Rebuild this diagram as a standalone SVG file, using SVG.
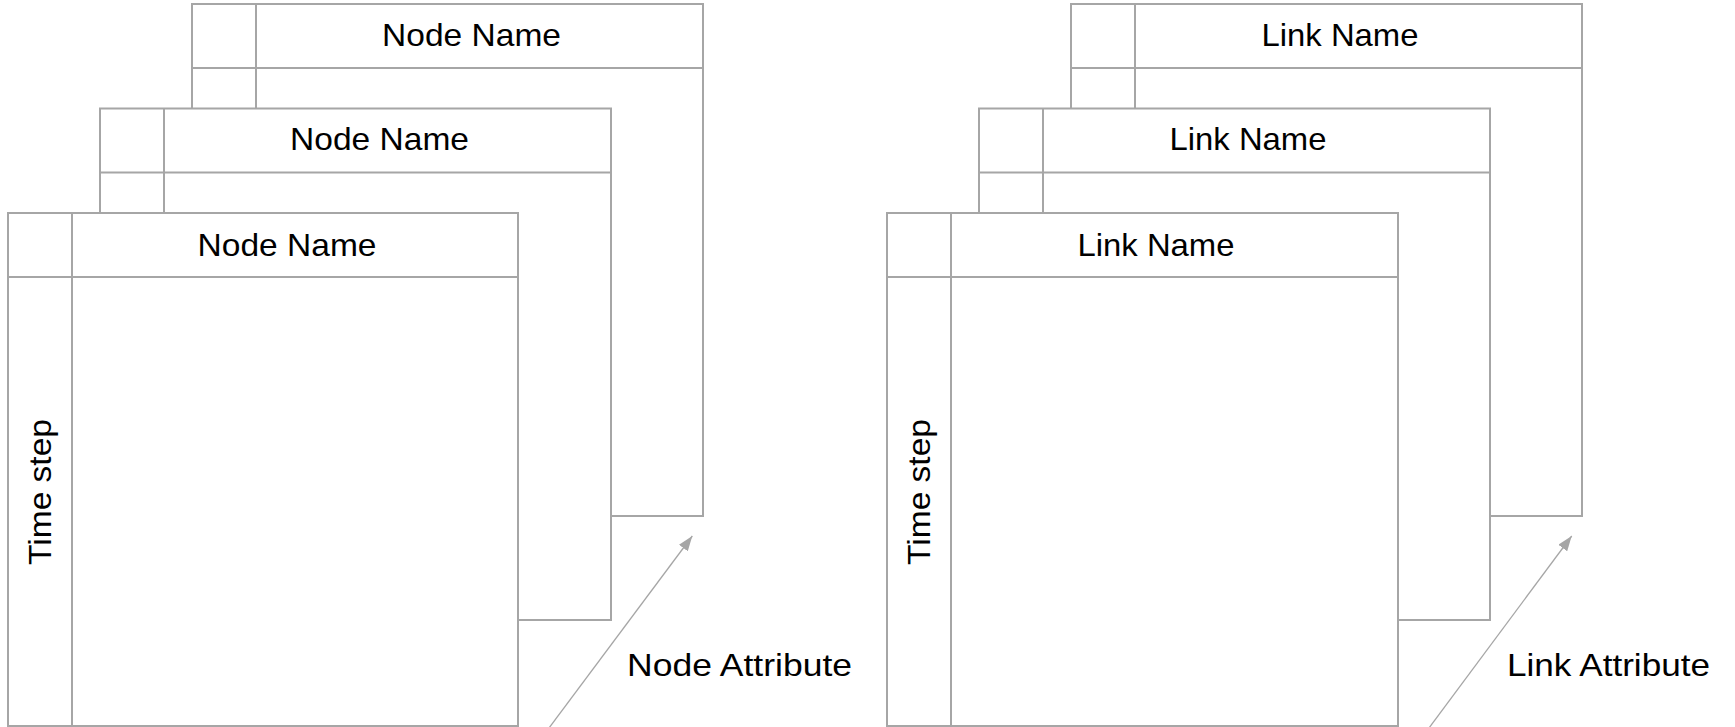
<svg xmlns="http://www.w3.org/2000/svg" width="1735" height="727" viewBox="0 0 1735 727">
<style>
.tb{fill:#ffffff;stroke:#a6a6a6;stroke-width:2}
.ln{fill:none;stroke:#a6a6a6;stroke-width:2}
.tx{font-family:"Liberation Sans",Arial,sans-serif;font-size:32px;fill:#000000}
.ar{fill:none;stroke:#a6a6a6;stroke-width:1.3}
</style>
<defs>
<marker id="ah" viewBox="0 0 15 11" refX="15" refY="5.5" markerWidth="15" markerHeight="11" markerUnits="userSpaceOnUse" orient="auto">
<path d="M0,0 L15,5.5 L0,11 z" fill="#a6a6a6"/>
</marker>
</defs>
<rect width="1735" height="727" fill="#ffffff"/>
<g id="node-table-back">
<rect class="tb" x="192" y="4" width="511" height="512"/>
<line class="ln" x1="192" y1="68" x2="703" y2="68"/>
<line class="ln" x1="256" y1="4" x2="256" y2="516"/>
<text class="tx" x="471.5" y="46" text-anchor="middle" textLength="179" lengthAdjust="spacingAndGlyphs">Node Name</text>
</g>
<g id="node-table-middle">
<rect class="tb" x="100" y="108.5" width="511" height="511.5"/>
<line class="ln" x1="100" y1="172.5" x2="611" y2="172.5"/>
<line class="ln" x1="164" y1="108.5" x2="164" y2="620"/>
<text class="tx" x="379.5" y="150" text-anchor="middle" textLength="179" lengthAdjust="spacingAndGlyphs">Node Name</text>
</g>
<g id="node-table-front">
<rect class="tb" x="8" y="213" width="510" height="513"/>
<line class="ln" x1="8" y1="277" x2="518" y2="277"/>
<line class="ln" x1="72" y1="213" x2="72" y2="726"/>
<text class="tx" x="287" y="256" text-anchor="middle" textLength="179" lengthAdjust="spacingAndGlyphs">Node Name</text>
<text class="tx" transform="translate(50.5,492) rotate(-90)" x="0" y="0" text-anchor="middle" textLength="146" lengthAdjust="spacingAndGlyphs">Time step</text>
</g>
<g id="link-table-back">
<rect class="tb" x="1071" y="4" width="511" height="512"/>
<line class="ln" x1="1071" y1="68" x2="1582" y2="68"/>
<line class="ln" x1="1135" y1="4" x2="1135" y2="516"/>
<text class="tx" x="1340" y="46" text-anchor="middle" textLength="157" lengthAdjust="spacingAndGlyphs">Link Name</text>
</g>
<g id="link-table-middle">
<rect class="tb" x="979" y="108.5" width="511" height="511.5"/>
<line class="ln" x1="979" y1="172.5" x2="1490" y2="172.5"/>
<line class="ln" x1="1043" y1="108.5" x2="1043" y2="620"/>
<text class="tx" x="1248" y="150" text-anchor="middle" textLength="157" lengthAdjust="spacingAndGlyphs">Link Name</text>
</g>
<g id="link-table-front">
<rect class="tb" x="887" y="213" width="511" height="513"/>
<line class="ln" x1="887" y1="277" x2="1398" y2="277"/>
<line class="ln" x1="951" y1="213" x2="951" y2="726"/>
<text class="tx" x="1156" y="256" text-anchor="middle" textLength="157" lengthAdjust="spacingAndGlyphs">Link Name</text>
<text class="tx" transform="translate(929.5,492) rotate(-90)" x="0" y="0" text-anchor="middle" textLength="146" lengthAdjust="spacingAndGlyphs">Time step</text>
</g>
<g id="connectors">
<line class="ar" x1="549" y1="728" x2="692.3" y2="536" marker-end="url(#ah)"/>
<line class="ar" x1="1429" y1="728" x2="1571.7" y2="536" marker-end="url(#ah)"/>
</g>
<g id="labels">
<text class="tx" x="627" y="676" textLength="225" lengthAdjust="spacingAndGlyphs">Node Attribute</text>
<text class="tx" x="1507" y="676" textLength="203" lengthAdjust="spacingAndGlyphs">Link Attribute</text>
</g>
</svg>
